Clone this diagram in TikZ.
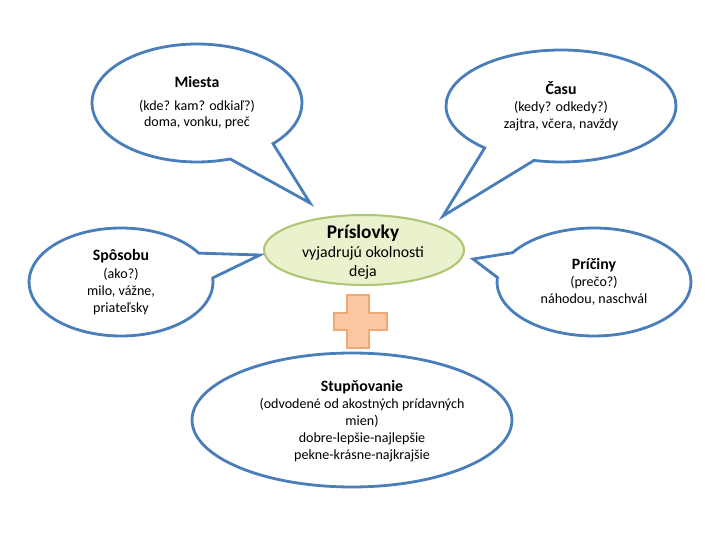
\documentclass[tikz,border=0pt]{standalone}
\usepackage{fontspec}
\setmainfont{Carlito}
\usetikzlibrary{positioning, shapes.geometric, shapes.callouts}
\definecolor{bubbleblue}{RGB}{74,126,187}
\definecolor{leafgreen}{RGB}{234,241,205}
\definecolor{leafdraw}{RGB}{175,198,118}
\definecolor{plusfill}{RGB}{250,199,160}
\definecolor{plusdraw}{RGB}{240,168,118}

\begin{document}
\begin{tikzpicture}[
        x=0.02cm, y=-0.02cm,
        bubble/.style={
          ellipse callout, draw=bubbleblue, line width=1.6pt, align=center,
          inner sep=0pt, callout pointer arc=28, font=\fontsize{8}{9.6}\selectfont
        },
        oval/.style={
          ellipse, line width=1.2pt, inner sep=0pt
        },
        ghost/.style={
          align=center, inner sep=0pt, font=\fontsize{8}{9.6}\selectfont
        },
        title/.style={
          font=\fontsize{9}{10}\selectfont\bfseries
        },
      ]
        \useasboundingbox (0,0) rectangle (720,540);

        % Pointer tips
        \coordinate (tip1) at (310,203);
        \coordinate (tip2) at (443,216);
        \coordinate (tip3) at (260,255);
        \coordinate (tip4) at (473,259);

        % Callouts
        \node [bubble, minimum width=4.2cm, minimum height=2.36cm,
          callout absolute pointer={(tip1)}] (miesta) at (197,103)
          {{\fontsize{9}{10}\selectfont\bfseries Miesta}\\[3pt](kde? kam? odkiaľ?)\\doma, vonku, preč};
        \node [bubble, minimum width=4.6cm, minimum height=2.24cm,
          callout absolute pointer={(tip2)}] (casu) at (561,106)
          {{\fontsize{9}{10}\selectfont\bfseries Času}\\(kedy? odkedy?)\\zajtra, včera, navždy};
        \node [bubble, minimum width=3.68cm, minimum height=2.16cm,
          callout absolute pointer={(tip3)}] (sposobu) at (121,282)
          {{\fontsize{9}{10}\selectfont\bfseries Spôsobu}\\[1pt](ako?)\\milo, vážne,\\priateľsky};
        \node [bubble, minimum width=3.88cm, minimum height=2.16cm,
          callout absolute pointer={(tip4)}] (priciny) at (594,282)
          {{\fontsize{9}{10}\selectfont\bfseries Príčiny}\\(prečo?)\\náhodou, naschvál};

        % Centre
        \node [oval, draw=leafdraw, fill=leafgreen, minimum width=4cm,
          minimum height=1.4cm] (prislovky) at (364,250) {};
        \node [ghost, font=\fontsize{9}{10.8}\selectfont] (prislovkyt) at (363,252)
          {{\fontsize{11}{12}\selectfont\bfseries Príslovky}\\vyjadrujú okolnosti\\deja};

        % Plus
        \draw [draw=plusdraw, fill=plusfill, line width=0.6pt]
          (347,295) -- (369,295) -- (369,313) -- (387,313) -- (387,330) -- (369,330)
          -- (369,348) -- (347,348) -- (347,330) -- (334,330) -- (334,313) -- (347,313) -- cycle;

        % Degrees
        \node [oval, draw=bubbleblue, line width=1.6pt, minimum width=6.4cm,
          minimum height=2.68cm] (stupnovanie) at (352,420) {};
        \node [ghost] (stupnovaniet) at (362,421)
          {{\fontsize{9}{10}\selectfont\bfseries Stupňovanie}\\(odvodené od akostných prídavných\\mien)\\dobre-lepšie-najlepšie\\pekne-krásne-najkrajšie};

      \end{tikzpicture}
\end{document}
